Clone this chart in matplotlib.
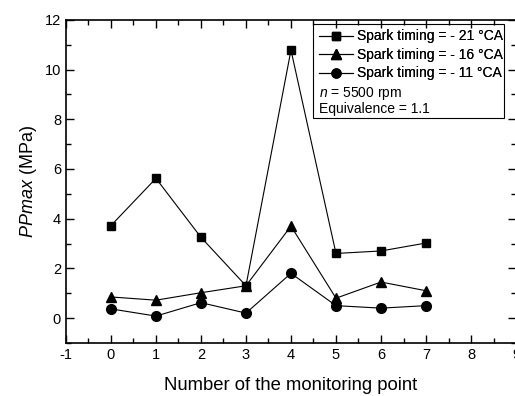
import matplotlib
matplotlib.use('Agg')
import matplotlib.pyplot as plt
from matplotlib.ticker import MultipleLocator
from matplotlib.lines import Line2D
from matplotlib.patches import Rectangle

plt.rcParams['font.family'] = ['Liberation Sans', 'DejaVu Sans']
plt.rcParams['mathtext.fontset'] = 'custom'
plt.rcParams['mathtext.it'] = 'Liberation Sans:italic'
plt.rcParams['mathtext.rm'] = 'Liberation Sans'
plt.rcParams['axes.unicode_minus'] = False

points = [0, 1, 2, 3, 4, 5, 6, 7]
pp_21 = [3.72, 5.62, 3.25, 1.30, 10.78, 2.60, 2.70, 3.02]
pp_16 = [0.85, 0.72, 1.02, 1.30, 3.70, 0.80, 1.45, 1.10]
pp_11 = [0.37, 0.08, 0.62, 0.20, 1.80, 0.50, 0.40, 0.50]
labels = ['Spark timing = - 21 °CA', 'Spark timing = - 16 °CA', 'Spark timing = - 11 °CA']
extra_lines = ['$n$ = 5500 rpm', 'Equivalence = 1.1']

fig = plt.figure(figsize=(5.15, 3.96), dpi=100)
ax = fig.add_axes([0.128, 0.134, 0.874, 0.816])

ax.plot(points, pp_21, color='black', lw=0.8, marker='s', ms=6, label=labels[0])
ax.plot(points, pp_16, color='black', lw=0.8, marker='^', ms=7.5, label=labels[1])
ax.plot(points, pp_11, color='black', lw=0.8, marker='o', ms=7, label=labels[2])

ax.set_xlim(-1, 9)
ax.set_ylim(-1, 12)
ax.xaxis.set_major_locator(MultipleLocator(1))
ax.xaxis.set_minor_locator(MultipleLocator(0.5))
ax.yaxis.set_major_locator(MultipleLocator(2))
ax.yaxis.set_minor_locator(MultipleLocator(1))
ax.tick_params(which='both', direction='in', top=True, right=True, labelsize=10.5, width=1)
ax.tick_params(which='major', length=6)
ax.tick_params(which='minor', length=3.5)
for s in ax.spines.values():
    s.set_linewidth(1.2)

ax.set_xlabel('Number of the monitoring point', fontsize=13.3, labelpad=11)
ax.set_ylabel('$PPmax$ (MPa)', fontsize=13, labelpad=4)

# legend box with two extra info lines
handles = [Line2D([], [], color='black', lw=0.8, marker=m, ms=s)
           for m, s in [('s', 5.5), ('^', 7), ('o', 6.5)]]
leg = ax.legend(handles, labels, loc='upper left', bbox_to_anchor=(0.562, 0.970),
                frameon=False, fontsize=10, handlelength=2.45, handletextpad=0.3,
                labelspacing=0.32, borderaxespad=0, borderpad=0)
ax.add_artist(leg)
ax.text(0.562, 0.773, extra_lines[0], transform=ax.transAxes, fontsize=10, va='center')
ax.text(0.562, 0.724, extra_lines[1], transform=ax.transAxes, fontsize=10, va='center')
ax.add_patch(Rectangle((0.549, 0.697), 0.424, 0.291, transform=ax.transAxes,
                       fill=False, ec='black', lw=0.8))

fig.savefig('out.png', dpi=100)
